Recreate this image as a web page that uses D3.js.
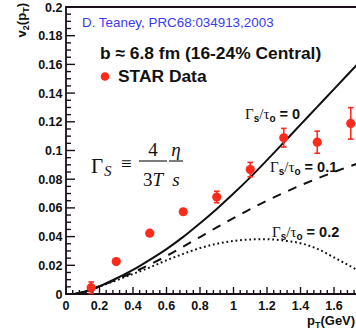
<!DOCTYPE html>
<html>
<head>
<meta charset="utf-8">
<script src="https://cdn.jsdelivr.net/npm/d3@7"></script>
<style>
  html, body { margin: 0; padding: 0; background: #fff; }
  svg { display: block; }
</style>
</head>
<body>
<svg id="chart" width="356" height="335"></svg>
<script>
// Hydro v2(pT) curves for three viscosity settings
const ptGrid    = [0.05, 0.1, 0.2, 0.3, 0.4, 0.5, 0.6, 0.7, 0.8, 0.9, 1.0, 1.1, 1.2, 1.3, 1.4, 1.5, 1.6, 1.75];
const v2Ideal   = [0, 0.0012, 0.0054, 0.0108, 0.0168, 0.0238, 0.0313, 0.0398, 0.0493, 0.0593, 0.0700, 0.0813, 0.0933, 0.1056, 0.1180, 0.1304, 0.1428, 0.1614];
const v2Visc01  = [0, 0.0012, 0.0053, 0.010, 0.015, 0.0205, 0.0265, 0.033, 0.0397, 0.0464, 0.0529, 0.0591, 0.065, 0.0705, 0.0757, 0.0805, 0.085, 0.0913];
const v2Visc02  = [0, 0.0012, 0.0052, 0.0095, 0.014, 0.0185, 0.0235, 0.028, 0.032, 0.035, 0.037, 0.038, 0.0382, 0.0372, 0.0354, 0.0315, 0.0255, 0.016];

// STAR measurement
const starPt  = [0.15, 0.3, 0.5, 0.7, 0.9, 1.1, 1.3, 1.5, 1.7];
const starV2  = [0.0044, 0.0226, 0.0424, 0.0573, 0.0676, 0.0867, 0.1089, 0.1058, 0.1189];
const starErr = [0.004, 0.0015, 0.0015, 0.0015, 0.004, 0.005, 0.0065, 0.0077, 0.011];

// Axis ticks
const xTicks = [0, 0.2, 0.4, 0.6, 0.8, 1, 1.2, 1.4, 1.6, 1.8, 2];
const xTickLabels = ["0", "0.2", "0.4", "0.6", "0.8", "1", "1.2", "1.4", "1.6"];
const yTicks = [0, 0.02, 0.04, 0.06, 0.08, 0.1, 0.12, 0.14, 0.16, 0.18, 0.2];
const yTickLabels = ["0", "0.02", "0.04", "0.06", "0.08", "0.1", "0.12", "0.14", "0.16", "0.18", "0.2"];

const svg = d3.select("#chart");
const plotLeft = 66, plotTop = 7, plotBottom = 294;
const x = d3.scaleLinear().domain([0, 2]).range([plotLeft, plotLeft + 335]);
const y = d3.scaleLinear().domain([0, 0.2]).range([plotBottom, plotTop]);

const sans = "'Liberation Sans', Arial, Helvetica, sans-serif";
const serif = "'Liberation Serif', 'Times New Roman', serif";

// clip region for curves
svg.append("defs").append("clipPath").attr("id", "plotClip")
  .append("rect").attr("x", plotLeft).attr("y", plotTop)
  .attr("width", 356 - plotLeft).attr("height", plotBottom - plotTop);

// minor ticks
const xMinor = d3.range(0, 2.0001, 0.04).filter(v => !xTicks.some(t => Math.abs(t - v) < 1e-6));
const yMinor = d3.range(0, 0.2001, 0.005).filter(v => !yTicks.some(t => Math.abs(t - v) < 1e-6));

const tickCol = "#1a0f1a";
const axG = svg.append("g").attr("stroke", tickCol).attr("stroke-width", 1.4);
axG.selectAll(".xmaj").data(xTicks).join("line").attr("class", "xmaj")
  .attr("x1", d => x(d)).attr("x2", d => x(d)).attr("y1", plotBottom).attr("y2", plotBottom - 7);
axG.selectAll(".xmin").data(xMinor).join("line").attr("class", "xmin")
  .attr("x1", d => x(d)).attr("x2", d => x(d)).attr("y1", plotBottom).attr("y2", plotBottom - 4);
axG.selectAll(".ymaj").data(yTicks).join("line").attr("class", "ymaj")
  .attr("x1", plotLeft).attr("x2", plotLeft + 9).attr("y1", d => y(d)).attr("y2", d => y(d));
axG.selectAll(".ymin").data(yMinor).join("line").attr("class", "ymin")
  .attr("x1", plotLeft).attr("x2", plotLeft + 5).attr("y1", d => y(d)).attr("y2", d => y(d));

// frame
svg.append("path")
  .attr("d", `M356,${plotTop}H${plotLeft}V${plotBottom}H356`)
  .attr("fill", "none").attr("stroke", tickCol).attr("stroke-width", 1.8);

// tick labels
svg.append("g").selectAll("text").data(xTickLabels).join("text")
  .attr("x", (d, i) => x(xTicks[i])).attr("y", 309.5)
  .attr("text-anchor", "middle")
  .attr("font-family", sans).attr("font-weight", "bold").attr("font-size", 12.5)
  .attr("fill", "#111")
  .text(d => d);
svg.append("g").selectAll("text").data(yTicks).join("text")
  .attr("x", 62.5).attr("y", d => y(d) + 4.5)
  .attr("text-anchor", "end")
  .attr("font-family", sans).attr("font-weight", "bold").attr("font-size", 12.5)
  .attr("fill", "#111")
  .text((d, i) => yTickLabels[i]);

// axis titles
const yTitle = svg.append("text")
  .attr("transform", "translate(26,3) rotate(-90)")
  .attr("text-anchor", "end")
  .attr("font-family", sans).attr("font-weight", "bold").attr("font-size", 13)
  .attr("fill", "#111");
yTitle.append("tspan").text("v");
yTitle.append("tspan").attr("font-size", 9).attr("dy", 3).text("2");
yTitle.append("tspan").attr("dy", -3).text("(p");
yTitle.append("tspan").attr("font-size", 9).attr("dy", 3).text("T");
yTitle.append("tspan").attr("dy", -3).text(")");

const xTitle = svg.append("text")
  .attr("x", 307).attr("y", 325)
  .attr("font-family", sans).attr("font-weight", "bold").attr("font-size", 13)
  .attr("fill", "#111");
xTitle.append("tspan").text("p");
xTitle.append("tspan").attr("font-size", 9).attr("dy", 3).text("T");
xTitle.append("tspan").attr("dy", -3).text("(GeV)");

// theory curves
const line = d3.line().x(d => x(d[0])).y(d => y(d[1])).curve(d3.curveMonotoneX);
const curves = [
  { v: v2Ideal, dash: null },
  { v: v2Visc01, dash: "9,8" },
  { v: v2Visc02, dash: "1.8,2.8" }
];
const cg = svg.append("g").attr("clip-path", "url(#plotClip)");
curves.forEach(c => {
  cg.append("path")
    .datum(ptGrid.map((p, i) => [p, c.v[i]]))
    .attr("d", line)
    .attr("fill", "none")
    .attr("stroke", "#111")
    .attr("stroke-width", 2)
    .attr("stroke-dasharray", c.dash);
});

// data points with error bars
const red = "#ff2a1a";
const pts = starPt.map((p, i) => ({ p, v: starV2[i], e: starErr[i] }));
const eg = svg.append("g").attr("stroke", red).attr("stroke-width", 1.6);
eg.selectAll(".bar").data(pts).join("line").attr("class", "bar")
  .attr("x1", d => x(d.p)).attr("x2", d => x(d.p))
  .attr("y1", d => y(d.v - d.e)).attr("y2", d => y(d.v + d.e));
eg.selectAll(".capT").data(pts).join("line").attr("class", "capT")
  .attr("x1", d => x(d.p) - 2.8).attr("x2", d => x(d.p) + 2.8)
  .attr("y1", d => y(d.v + d.e)).attr("y2", d => y(d.v + d.e));
eg.selectAll(".capB").data(pts).join("line").attr("class", "capB")
  .attr("x1", d => x(d.p) - 2.8).attr("x2", d => x(d.p) + 2.8)
  .attr("y1", d => y(d.v - d.e)).attr("y2", d => y(d.v - d.e));
svg.append("g").selectAll("circle").data(pts).join("circle")
  .attr("cx", d => x(d.p)).attr("cy", d => y(d.v)).attr("r", 4.6)
  .attr("fill", red);

// reference and legend
svg.append("text").attr("x", 82).attr("y", 26.5)
  .attr("font-family", sans).attr("font-size", 13.4).attr("fill", "#3a3af5")
  .text("D. Teaney, PRC68:034913,2003");
svg.append("text").attr("x", 100).attr("y", 58.5)
  .attr("font-family", sans).attr("font-weight", "bold").attr("font-size", 17.4).attr("fill", "#111")
  .text("b \u2248 6.8 fm (16-24% Central)");
svg.append("circle").attr("cx", 105).attr("cy", 76.5).attr("r", 4.3).attr("fill", red);
svg.append("text").attr("x", 118).attr("y", 82)
  .attr("font-family", sans).attr("font-weight", "bold").attr("font-size", 17.4).attr("fill", "#111")
  .text("STAR Data");

// curve labels
function gammaLabel(xp, yp, val) {
  const t = svg.append("text").attr("x", xp).attr("y", yp).attr("fill", "#111");
  t.append("tspan").attr("font-family", serif).attr("font-size", 15).text("\u0393");
  t.append("tspan").attr("font-family", sans).attr("font-weight", "bold").attr("font-size", 10).attr("dy", 3).text("s");
  t.append("tspan").attr("font-family", serif).attr("font-size", 15).attr("dy", -3).text("/\u03C4");
  t.append("tspan").attr("font-family", sans).attr("font-weight", "bold").attr("font-size", 10).attr("dy", 3).text("o");
  t.append("tspan").attr("font-family", sans).attr("font-weight", "bold").attr("font-size", 14.5).attr("dy", -3).text(" = " + val);
}
gammaLabel(245, 118.5, "0");
gammaLabel(270, 172, "0.1");
gammaLabel(272, 237, "0.2");

// definition of Gamma_s
const fg = svg.append("g").attr("font-family", serif).attr("fill", "#111");
fg.append("text").attr("x", 91).attr("y", 173).attr("font-size", 21).text("\u0393");
fg.append("text").attr("x", 104).attr("y", 176).attr("font-size", 15).attr("font-style", "italic").text("S");
fg.append("text").attr("x", 121).attr("y", 170).attr("font-size", 19).text("\u2261");
fg.append("text").attr("x", 153).attr("y", 156).attr("font-size", 19).attr("text-anchor", "middle").text("4");
fg.append("line").attr("x1", 139).attr("x2", 167).attr("y1", 161).attr("y2", 161).attr("stroke", "#111").attr("stroke-width", 1.1);
fg.append("text").attr("x", 153).attr("y", 186).attr("font-size", 19).attr("text-anchor", "middle").text("3").append("tspan").attr("font-style", "italic").text("T");
fg.append("text").attr("x", 176).attr("y", 156).attr("font-size", 19).attr("font-style", "italic").attr("text-anchor", "middle").text("\u03B7");
fg.append("line").attr("x1", 169).attr("x2", 183).attr("y1", 161).attr("y2", 161).attr("stroke", "#111").attr("stroke-width", 1.1);
fg.append("text").attr("x", 176).attr("y", 186).attr("font-size", 19).attr("font-style", "italic").attr("text-anchor", "middle").text("s");
</script>
</body>
</html>
